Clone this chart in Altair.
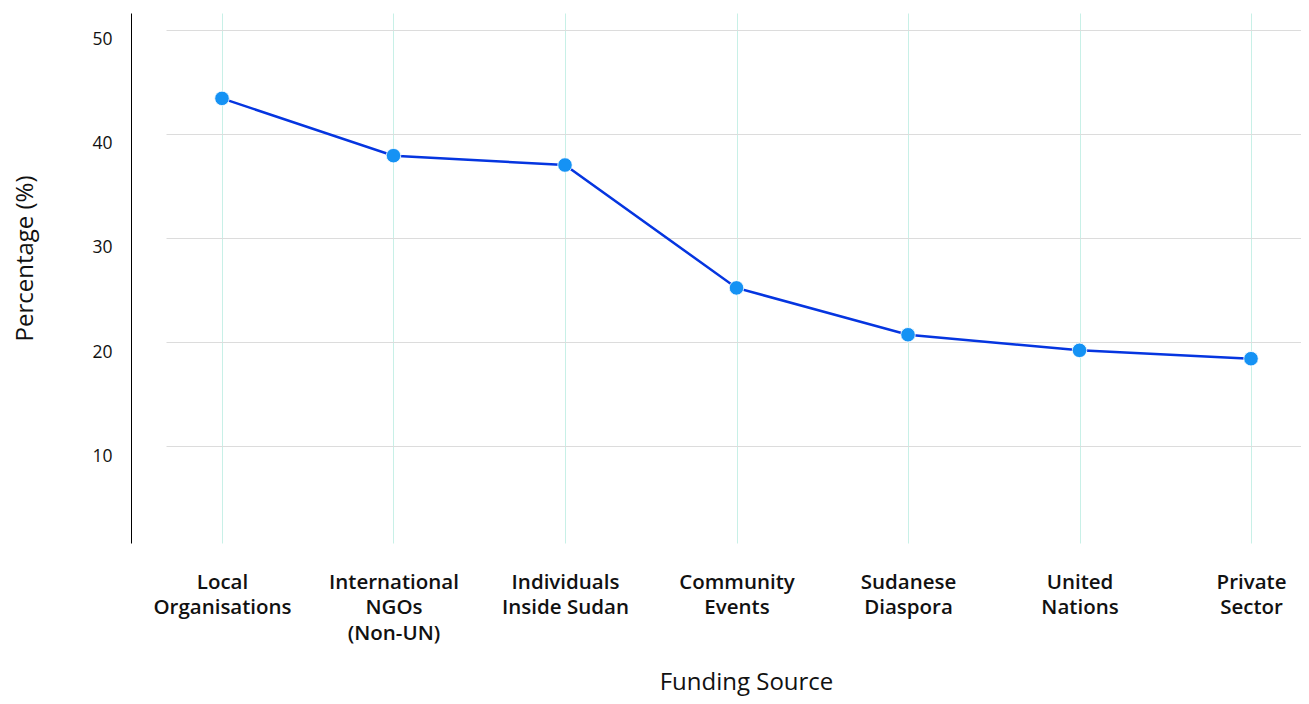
import altair as alt
import pandas as pd

categories = [
    "Local Organisations",
    "International NGOs (Non-UN)",
    "Individuals Inside Sudan",
    "Community Events",
    "Sudanese Diaspora",
    "United Nations",
    "Private Sector",
]
label_lines = [
    ["Local", "Organisations"],
    ["International", "NGOs", "(Non-UN)"],
    ["Individuals", "Inside Sudan"],
    ["Community", "Events"],
    ["Sudanese", "Diaspora"],
    ["United", "Nations"],
    ["Private", "Sector"],
]
percentages = [43.4, 37.9, 37.0, 25.2, 20.7, 19.2, 18.4]
y_ticks = [10, 20, 30, 40, 50]

df = pd.DataFrame({"source": categories, "pct": percentages})

# build multi-line label expression
parts = []
for cat, lines in zip(categories, label_lines):
    arr = "[" + ",".join("'" + l + "'" for l in lines) + "]"
    parts.append(f"datum.value == '{cat}' ? {arr}")
label_expr = " : ".join(parts) + " : datum.label"

FONT = "Open Sans"

x_enc = alt.X(
    "source:N",
    sort=categories,
    scale=alt.Scale(type="point", range=[35, 1176], padding=0.3265),
    axis=alt.Axis(
        title="Funding Source",
        labelExpr=label_expr,
        labelAngle=0,
        labelFont=FONT,
        labelFontSize=20.5,
        labelFontWeight=600,
        labelColor="#111111",
        labelLineHeight=25.5,
        labelPadding=29,
        labelBaseline="top",
        ticks=False,
        domain=False,
        grid=True,
        gridColor="#c8f0e7",
        gridWidth=1,
        titleFont=FONT,
        titleFontSize=24,
        titleFontWeight="normal",
        titleColor="#111111",
        titleX=615,
        titleAlign="center",
        titlePadding=27,
    ),
)
y_enc = alt.Y(
    "pct:Q",
    scale=alt.Scale(domain=[0.7, 51.6], nice=False, zero=False),
    axis=alt.Axis(
        title="Percentage (%)",
        values=y_ticks,
        format="d",
        labelFont=FONT,
        labelFontSize=17.5,
        labelColor="#111111",
        labelPadding=19,
        labelOffset=10,
        labelBaseline="middle",
        ticks=False,
        domain=True,
        domainColor="#000000",
        domainWidth=1,
        grid=True,
        gridColor="#dcdcdc",
        gridWidth=1,
        titleFont=FONT,
        titleFontSize=24,
        titleFontWeight="normal",
        titleColor="#111111",
        titleX=-106,
        titleY=245,
        titleAngle=270,
        titleAlign="center",
        titleBaseline="middle",
    ),
)

line = alt.Chart(df).mark_line(color="#0535e0", strokeWidth=2.5).encode(x=x_enc, y=y_enc)
points = alt.Chart(df).mark_point(
    filled=True, size=210, color="#1592f4", opacity=1, stroke="white", strokeWidth=0.8
).encode(x=x_enc, y=y_enc)

chart = (
    (line + points)
    .properties(
        width=1170,
        height=530,
        autosize=alt.AutoSizeParams(type="none"),
        padding={"left": 123, "top": 5, "right": 0, "bottom": 153},
    )
    .configure_view(stroke=None)
)

chart.save("out.html", embed_options={"renderer": "svg", "actions": False})
